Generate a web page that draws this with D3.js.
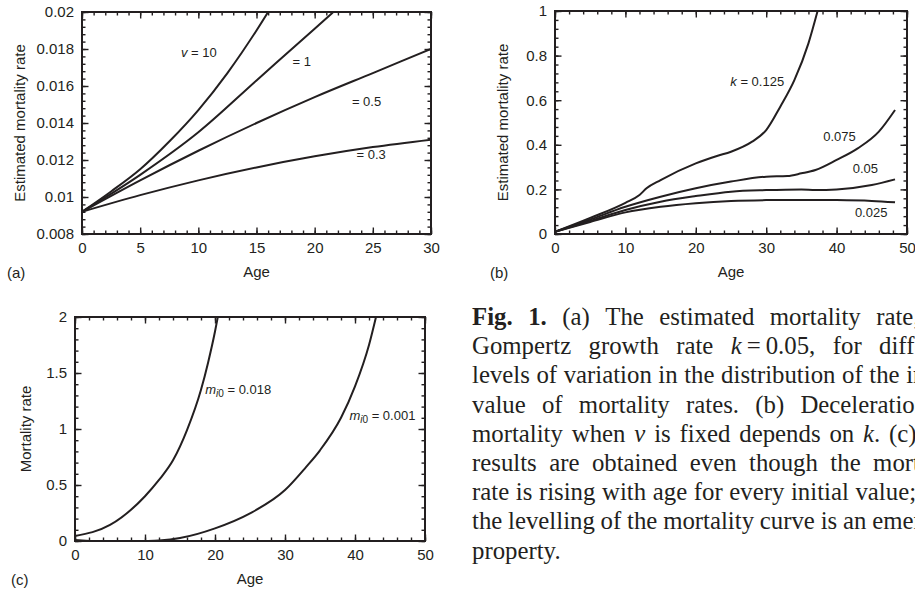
<!DOCTYPE html>
<html>
<head>
<meta charset="utf-8">
<script src="https://cdn.jsdelivr.net/npm/d3@7"></script>
<style>
  html, body { margin: 0; padding: 0; background: #fff; overflow: hidden; }
</style>
</head>
<body>
<div id="fig"></div>
<script>
// ---- panel (a): estimated mortality rate for different v, k = 0.05 ----
const ageV10 = [0, 2.5, 5, 7.5, 10, 12.5, 15, 16];
const rateV10 = [0.0092, 0.0103, 0.0115, 0.013, 0.0147, 0.0167, 0.019, 0.02];
const ageV1 = [0, 5, 10, 15, 20, 21.6];
const rateV1 = [0.0092, 0.0112, 0.0135, 0.0163, 0.0191, 0.02];
const ageV05 = [0, 5, 10, 15, 20, 25, 30];
const rateV05 = [0.0092, 0.0109, 0.0125, 0.014, 0.0154, 0.0167, 0.018];
const ageV03 = [0, 5, 10, 15, 20, 25, 30];
const rateV03 = [0.0092, 0.0101, 0.0109, 0.0116, 0.0122, 0.0127, 0.0131];
const aXTicks = [0, 5, 10, 15, 20, 25, 30];
const aYTicks = [0.008, 0.01, 0.012, 0.014, 0.016, 0.018, 0.02];
const aYTickLabels = ["0.008", "0.01", "0.012", "0.014", "0.016", "0.018", "0.02"];

// ---- panel (b): deceleration depends on k ----
const ageK0125 = [0, 5, 10, 12, 13, 15, 20, 23, 25, 28, 30, 32, 34, 36, 37.3];
const rateK0125 = [0.01, 0.072, 0.14, 0.175, 0.205, 0.242, 0.317, 0.35, 0.369, 0.414, 0.466, 0.571, 0.69, 0.855, 1.0];
const ageK0075 = [0, 5, 10, 15, 20, 25, 30, 33, 35, 37, 40, 43, 46, 48.3];
const rateK0075 = [0.01, 0.065, 0.122, 0.167, 0.205, 0.235, 0.257, 0.26, 0.272, 0.287, 0.332, 0.384, 0.459, 0.556];
const ageK005 = [0, 5, 10, 15, 20, 25, 30, 35, 37, 40, 45, 48.3];
const rateK005 = [0.01, 0.058, 0.108, 0.145, 0.17, 0.19, 0.197, 0.2, 0.197, 0.2, 0.22, 0.245];
const ageK0025 = [0, 5, 10, 15, 20, 25, 30, 35, 40, 45, 48.3];
const rateK0025 = [0.01, 0.054, 0.097, 0.122, 0.138, 0.148, 0.152, 0.153, 0.152, 0.148, 0.142];
const bXTicks = [0, 10, 20, 30, 40, 50];
const bYTicks = [0, 0.2, 0.4, 0.6, 0.8, 1];
const bYTickLabels = ["0", "0.2", "0.4", "0.6", "0.8", "1"];

// ---- panel (c): mortality rate for two initial values ----
const ageM018 = [0, 5, 10, 12, 14, 16, 18, 19, 20, 20.4];
const rateM018 = [0.045, 0.143, 0.4, 0.545, 0.72, 0.99, 1.35, 1.59, 1.87, 2.0];
const ageM001 = [0, 5, 10, 12, 15, 20, 25, 30, 33, 35, 38, 40, 42, 43];
const rateM001 = [0.01, -0.005, 0, 0.005, 0.027, 0.113, 0.247, 0.455, 0.66, 0.81, 1.1, 1.38, 1.75, 2.0];
const cXTicks = [0, 10, 20, 30, 40, 50];
const cYTicks = [0, 0.5, 1, 1.5, 2];
const cYTickLabels = ["0", "0.5", "1", "1.5", "2"];

const captionLines = [
  "**Fig.** **1.** (a) The estimated mortality rate, for",
  "Gompertz growth rate _k_\u2009=\u20090.05, for different",
  "levels of variation in the distribution of the initial",
  "value of mortality rates. (b) Deceleration of",
  "mortality when _v_ is fixed depends on _k_. (c) The",
  "results are obtained even though the mortality",
  "rate is rising with age for every initial value; thus",
  "the levelling of the mortality curve is an emergent",
  "property."
];

const ink = "#231f20";
const sans = "'Liberation Sans', Arial, Helvetica, sans-serif";
const serif = "'Liberation Serif', 'Times New Roman', serif";

const svg = d3.select("#fig").append("svg")
  .attr("width", 915)
  .attr("height", 592);
svg.append("rect").attr("width", 915).attr("height", 592).attr("fill", "#fff");
const defs = svg.append("defs");

const zip = (xs, ys) => xs.map((d, i) => [d, ys[i]]);
const range = (a, b, s) => d3.range(a, b + s / 2, s);

function drawPanel(p) {
  const x = d3.scaleLinear().domain(p.xDomain).range([p.left, p.right]);
  const y = d3.scaleLinear().domain(p.yDomain).range([p.bottom, p.top]);
  const g = svg.append("g");

  defs.append("clipPath").attr("id", "clip-" + p.name)
    .append("rect")
    .attr("x", p.left).attr("y", p.top)
    .attr("width", p.right - p.left).attr("height", p.bottom - p.top);

  const axisSpecs = [
    [() => d3.axisBottom(x), `translate(0,${p.bottom})`, p.xMinor, p.xTicks, (d, i) => p.xLabels[i]],
    [() => d3.axisTop(x), `translate(0,${p.top})`, p.xMinor, p.xTicks, null],
    [() => d3.axisLeft(y), `translate(${p.left},0)`, p.yMinor, p.yTicks, (d, i) => p.yLabels[i]],
    [() => d3.axisRight(y), `translate(${p.right},0)`, p.yMinor, p.yTicks, null]
  ];

  axisSpecs.forEach(([makeAxis, tr, minor, major, fmt]) => {
    const gm = g.append("g")
      .attr("transform", tr)
      .call(makeAxis().tickValues(minor).tickSize(-3.5).tickSizeOuter(0).tickFormat(() => ""));
    gm.select(".domain").remove();
    gm.selectAll("line").attr("stroke", ink).attr("stroke-width", 1.4);

    const ga = g.append("g")
      .attr("transform", tr)
      .call(makeAxis().tickValues(major).tickSize(-6.5).tickSizeOuter(0)
        .tickPadding(p.pad).tickFormat(fmt || (() => "")))
      .attr("font-family", sans)
      .attr("font-size", 15);
    ga.select(".domain").remove();
    ga.selectAll("line").attr("stroke", ink).attr("stroke-width", 1.4);
    ga.selectAll("text").attr("fill", ink);
  });

  g.append("rect")
    .attr("x", p.left).attr("y", p.top)
    .attr("width", p.right - p.left).attr("height", p.bottom - p.top)
    .attr("fill", "none").attr("stroke", ink).attr("stroke-width", 2);

  const line = d3.line()
    .x((d) => x(d[0]))
    .y((d) => y(d[1]))
    .curve(d3.curveMonotoneX);

  g.append("g").attr("clip-path", `url(#clip-${p.name})`)
    .selectAll("path")
    .data(p.series)
    .join("path")
    .attr("d", line)
    .attr("fill", "none")
    .attr("stroke", ink)
    .attr("stroke-width", 2);

  // axis titles and panel letter
  g.append("text")
    .attr("transform", `translate(${p.yTitleX},${(p.top + p.bottom) / 2}) rotate(-90)`)
    .attr("text-anchor", "middle")
    .attr("dominant-baseline", "central")
    .attr("font-family", sans).attr("font-size", 15).attr("fill", ink)
    .text(p.yTitle);
  g.append("text")
    .attr("x", (p.left + p.right) / 2).attr("y", p.xTitleY)
    .attr("text-anchor", "middle")
    .attr("font-family", sans).attr("font-size", 15).attr("fill", ink)
    .text("Age");
  g.append("text")
    .attr("x", p.letterX).attr("y", p.xTitleY + 1)
    .attr("font-family", sans).attr("font-size", 15).attr("fill", ink)
    .text(p.letter);

  // curve labels
  p.notes.forEach((n) => {
    const t = g.append("text")
      .attr("x", x(n.at[0])).attr("y", y(n.at[1]))
      .attr("font-family", sans).attr("font-size", 13).attr("fill", ink);
    n.parts.forEach(([s, style]) => {
      const ts = t.append("tspan").text(s);
      if (style === "i") ts.attr("font-style", "italic");
      if (style === "sub") ts.attr("font-style", "italic").attr("font-size", 10).attr("dy", 3);
      if (style === "sub0") ts.attr("font-size", 10);
      if (style === "up") ts.attr("dy", -3);
    });
  });
}

drawPanel({
  name: "a", letter: "(a)", letterX: 7,
  left: 82, right: 431, top: 12, bottom: 234, pad: 8,
  xDomain: [0, 30], yDomain: [0.008, 0.02],
  xTicks: aXTicks, xLabels: aXTicks.map(String), xMinor: range(0, 30, 1),
  yTicks: aYTicks, yLabels: aYTickLabels, yMinor: range(0.008, 0.02, 0.0004),
  yTitle: "Estimated mortality rate", yTitleX: 19, xTitleY: 277,
  series: [zip(ageV10, rateV10), zip(ageV1, rateV1), zip(ageV05, rateV05), zip(ageV03, rateV03)],
  notes: [
    { at: [8.5, 0.01755], parts: [["v", "i"], [" = 10", ""]] },
    { at: [18.1, 0.0171], parts: [["= 1", ""]] },
    { at: [23.2, 0.0149], parts: [["= 0.5", ""]] },
    { at: [23.6, 0.01205], parts: [["= 0.3", ""]] }
  ]
});

drawPanel({
  name: "b", letter: "(b)", letterX: 490,
  left: 555, right: 907, top: 11, bottom: 234, pad: 8,
  xDomain: [0, 50], yDomain: [0, 1],
  xTicks: bXTicks, xLabels: bXTicks.map(String), xMinor: range(0, 50, 2),
  yTicks: bYTicks, yLabels: bYTickLabels, yMinor: range(0, 1, 0.04),
  yTitle: "Estimated mortality rate", yTitleX: 502, xTitleY: 277,
  series: [zip(ageK0125, rateK0125), zip(ageK0075, rateK0075), zip(ageK005, rateK005), zip(ageK0025, rateK0025)],
  notes: [
    { at: [24.9, 0.665], parts: [["k", "i"], [" = 0.125", ""]] },
    { at: [38.1, 0.415], parts: [["0.075", ""]] },
    { at: [42.3, 0.272], parts: [["0.05", ""]] },
    { at: [42.6, 0.078], parts: [["0.025", ""]] }
  ]
});

drawPanel({
  name: "c", letter: "(c)", letterX: 11,
  left: 75, right: 425, top: 317, bottom: 541, pad: 8,
  xDomain: [0, 50], yDomain: [0, 2],
  xTicks: cXTicks, xLabels: cXTicks.map(String), xMinor: range(0, 50, 2),
  yTicks: cYTicks, yLabels: cYTickLabels, yMinor: range(0, 2, 0.1),
  yTitle: "Mortality rate", yTitleX: 25, xTitleY: 584,
  series: [zip(ageM018, rateM018), zip(ageM001, rateM001)],
  notes: [
    { at: [18.6, 1.31], parts: [["m", "i"], ["i", "sub"], ["0", "sub0"], [" = 0.018", "up"]] },
    { at: [39.2, 1.08], parts: [["m", "i"], ["i", "sub"], ["0", "sub0"], [" = 0.001", "up"]] }
  ]
});

// ---- caption, justified lines (the column runs past the right edge) ----
const capLeft = 472, capWidth = 492, capTop = 325, capLead = 29.2;
const cap = svg.append("g")
  .attr("font-family", serif).attr("font-size", 24.8).attr("fill", ink);

captionLines.forEach((ln, li) => {
  const words = ln.split(" ");
  const nodes = words.map((w) => {
    const t = cap.append("text").attr("y", capTop + li * capLead);
    w.split(/(\*\*[^*]+\*\*|_[^_]+_)/).filter((s) => s.length).forEach((s) => {
      if (s.startsWith("**")) t.append("tspan").attr("font-weight", "bold").text(s.slice(2, -2));
      else if (s.startsWith("_")) t.append("tspan").attr("font-style", "italic").text(s.slice(1, -1));
      else t.append("tspan").text(s);
    });
    return t;
  });
  const widths = nodes.map((t) => t.node().getComputedTextLength());
  const total = d3.sum(widths);
  const last = li === captionLines.length - 1;
  const gap = last ? 6 : (capWidth - total) / (words.length - 1);
  let cx = capLeft;
  nodes.forEach((t, i) => {
    t.attr("x", cx);
    cx += widths[i] + gap;
  });
});
</script>
</body>
</html>
